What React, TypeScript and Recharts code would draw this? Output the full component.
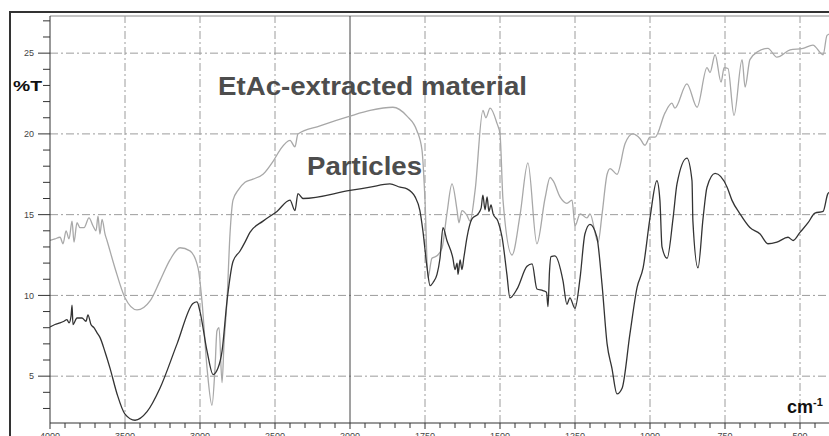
import React from "react";
import { Line, LineChart, ReferenceLine, XAxis, YAxis } from "recharts";

// EtAc-extracted material (grey trace), wavenumber in cm-1 and %T
const etacWavenumber = [
  4000, 3967, 3933, 3913, 3893, 3873, 3853, 3840, 3820, 3800, 3773, 3740, 3713, 3693, 3680, 3667,
  3653, 3633, 3620, 3567, 3500, 3420, 3333, 3267, 3200, 3133, 3067, 3013, 2987, 2953, 2920, 2900,
  2887, 2873, 2853, 2840, 2820, 2800, 2780, 2747, 2700, 2647, 2580, 2513, 2467, 2400, 2367, 2347,
  2200, 2000, 1933, 1857, 1810, 1777, 1760, 1750, 1740, 1727, 1710, 1693, 1677, 1660, 1643, 1637,
  1627, 1610, 1600, 1583, 1557, 1547, 1533, 1510, 1500, 1490, 1460, 1433, 1407, 1377, 1350, 1333,
  1323, 1300, 1277, 1260, 1250, 1233, 1210, 1200, 1173, 1160, 1143, 1133, 1110, 1083, 1057, 1033,
  1017, 1000, 983, 950, 927, 917, 877, 843, 810, 800, 783, 763, 753, 740, 720, 693,
  683, 667, 640, 607, 577, 533, 490, 457, 423, 410, 400,
];
const etacT = [
  13.4, 13.5, 13.6, 13.2, 14.0, 13.5, 14.6, 13.3, 14.5, 14.2, 14.2, 14.8, 14.3, 14.0, 14.9, 13.8,
  14.7, 13.8, 13.4, 11.7, 9.85, 9.1, 9.66, 10.9, 12.2, 12.95, 12.76, 11.7, 9.66, 5.5, 3.2, 5.5,
  7.8, 8.0, 4.6, 7.0, 9.66, 13.8, 15.9, 16.5, 17.0, 17.2, 17.5, 18.3, 19.0, 19.6, 19.2, 20.0,
  20.5, 21.1, 21.45, 21.65, 21.1, 20.2, 19.0, 15.9, 11.1, 12.3, 12.45, 12.95, 15.05, 16.9, 15.25, 14.5,
  15.25, 14.95, 14.6, 16.5, 21.45, 21.0, 21.6, 20.65, 20.0, 15.9, 12.5, 15.0, 18.2, 13.2, 16.0, 17.3,
  17.1, 16.1, 15.7, 15.9, 14.3, 15.05, 14.8, 15.05, 13.3, 15.0, 17.5, 17.85, 17.5, 19.4, 20.0, 19.7,
  19.3, 19.8, 19.8, 21.3, 21.9, 21.6, 23.1, 21.65, 24.1, 23.8, 24.9, 23.2, 24.1, 24.05, 21.15, 24.6,
  22.9, 24.6, 25.1, 25.3, 24.75, 25.2, 25.3, 25.5, 24.9, 26.1, 26.2,
];

// Particles (dark trace)
const partWavenumber = [
  4000, 3967, 3933, 3907, 3887, 3873, 3860, 3853, 3847, 3820, 3787, 3760, 3747, 3727, 3707, 3687,
  3667, 3633, 3600, 3553, 3500, 3433, 3353, 3267, 3153, 3047, 3020, 3000, 2953, 2913, 2880, 2853,
  2820, 2780, 2733, 2700, 2667, 2580, 2487, 2400, 2367, 2347, 2313, 2000, 1933, 1867, 1833, 1810,
  1783, 1767, 1757, 1743, 1733, 1723, 1710, 1700, 1690, 1677, 1657, 1650, 1643, 1640, 1633, 1627,
  1620, 1610, 1593, 1573, 1563, 1557, 1550, 1543, 1537, 1530, 1523, 1507, 1493, 1477, 1467, 1443,
  1410, 1393, 1377, 1357, 1345, 1340, 1335, 1330, 1317, 1290, 1277, 1267, 1250, 1233, 1217, 1200,
  1177, 1160, 1143, 1127, 1110, 1093, 1067, 1043, 1023, 1000, 977, 967, 960, 943, 923, 910,
  877, 860, 857, 840, 823, 810, 783, 743, 727, 700, 667, 633, 607, 577, 540, 523,
  500, 473, 450, 423, 407, 400,
];
const partT = [
  8.05, 8.2, 8.3, 8.4, 8.5, 8.3, 8.7, 9.4, 8.2, 8.6, 8.6, 8.4, 8.8, 8.2, 8.0, 7.7,
  7.4, 6.5, 5.5, 3.9, 2.65, 2.27, 2.8, 4.25, 7.0, 9.5, 9.6, 9.0, 6.55, 5.1, 5.5, 6.55,
  9.65, 12.1, 12.75, 13.3, 13.9, 14.6, 15.2, 15.9, 15.25, 16.3, 16.0, 16.5, 16.7, 16.9, 16.7, 16.6,
  16.1, 15.25, 14.0, 11.7, 10.6, 10.8, 11.3, 12.3, 14.2, 13.4, 12.3, 11.6, 12.0, 11.3, 12.2, 11.6,
  12.4, 13.6, 14.75, 15.05, 15.4, 16.2, 15.3, 16.1, 15.2, 15.6, 15.05, 14.6, 13.6, 11.3, 9.85, 10.4,
  11.8, 11.95, 10.4, 10.3, 10.2, 9.3, 11.5, 12.4, 12.45, 10.9, 9.45, 9.85, 9.2, 11.1, 13.8, 14.4,
  13.6, 10.7, 7.0, 5.5, 3.9, 4.25, 7.6, 10.5, 11.7, 14.8, 17.1, 15.9, 13.0, 12.3, 14.8, 16.9,
  18.5, 17.1, 14.6, 11.7, 14.8, 16.7, 17.55, 16.7, 15.9, 15.05, 14.2, 13.8, 13.2, 13.3, 13.6, 13.4,
  13.9, 14.5, 15.1, 15.2, 16.3, 16.4,
];

const majorWavenumbers = [4000, 3500, 3000, 2500, 2000, 1750, 1500, 1250, 1000, 750, 500];
const majorT = [5, 10, 15, 20, 25];
const minorT = [3, 4, 5, 6, 7, 8, 9, 10, 11, 12, 13, 14, 15, 16, 17, 18, 19, 20, 21, 22, 23, 24, 25, 26, 27];

// the spectrometer axis is compressed 2x above 2000 cm-1
const toAxis = (w: number) => (w >= 2000 ? (4000 - w) / 2 : 1000 + (2000 - w));
const fromAxis = (u: number) => (u <= 1000 ? 4000 - u * 2 : 2000 - (u - 1000));

const etacData = etacWavenumber.map((w, i) => ({ u: toAxis(w), t: etacT[i] }));
const partData = partWavenumber.map((w, i) => ({ u: toAxis(w), t: partT[i] }));

const xTicks: number[] = [];
for (let u = 0; u <= 2600; u += 50) xTicks.push(u);

const font = "'Liberation Sans', Arial, sans-serif";
const grid = "#9c9c9c";

const XTick = (props: any) => {
  const { x, y, payload } = props;
  const w = fromAxis(payload.value);
  const major = majorWavenumbers.includes(w);
  return (
    <g>
      <line x1={x} x2={x} y1={y} y2={y + (major ? 6 : 5)} stroke="#333" />
      {major && (
        <text x={x} y={y + 15.5} textAnchor="middle" fontSize={9} fontFamily={font} fill="#444">
          {w}
        </text>
      )}
    </g>
  );
};

const YTick = (props: any) => {
  const { x, y, payload } = props;
  const major = majorT.includes(payload.value);
  return (
    <g>
      <line x1={x - (major ? 12 : 7)} x2={x} y1={y} y2={y} stroke="#333" />
      {major && (
        <text x={x - 16} y={y} dy="0.35em" textAnchor="end" fontSize={9} fontFamily={font} fill="#444">
          {payload.value}
        </text>
      )}
    </g>
  );
};

export default function App() {
  return (
    <div style={{ position: "fixed", left: 0, top: 0, width: 829, height: 436, overflow: "hidden", background: "#fff" }}>
      <div
        style={{
          position: "absolute",
          left: 9,
          top: 11,
          width: 840,
          height: 440,
          borderTop: "2px solid #333",
          borderLeft: "2px solid #333",
        }}
      />
      <div style={{ position: "absolute", left: 0, top: 0 }}>
        <LineChart width={840} height={453} margin={{ top: 16, right: 10, bottom: 0, left: 0 }}>
          <XAxis
            dataKey="u"
            type="number"
            domain={[0, 2600]}
            ticks={xTicks}
            interval={0}
            tick={<XTick />}
            tickLine={false}
            tickSize={0}
            tickMargin={0}
            axisLine={{ stroke: "#333" }}
            height={30}
            allowDataOverflow
          />
          <YAxis
            type="number"
            domain={[2.1, 27.3]}
            ticks={minorT}
            interval={0}
            tick={<YTick />}
            tickLine={false}
            tickSize={0}
            tickMargin={0}
            axisLine={{ stroke: "#333" }}
            width={50}
            allowDataOverflow
          />
          <ReferenceLine y={27.3} stroke="#8a8a8a" />
          {majorT.map((t) => (
            <ReferenceLine key={"h" + t} y={t} stroke={grid} strokeDasharray="8 3 2 3" />
          ))}
          {majorWavenumbers
            .filter((w) => w !== 2000 && w !== 4000)
            .map((w) => (
              <ReferenceLine key={"v" + w} x={toAxis(w)} stroke={grid} strokeDasharray="8 3 2 3" />
            ))}
          <ReferenceLine x={toAxis(2000)} stroke="#444" />
          <Line
            data={etacData}
            dataKey="t"
            type="monotone"
            stroke="#a8a8a8"
            strokeWidth={1.3}
            dot={false}
            isAnimationActive={false}
          />
          <Line
            data={partData}
            dataKey="t"
            type="monotone"
            stroke="#333"
            strokeWidth={1.3}
            dot={false}
            isAnimationActive={false}
          />
        </LineChart>
      </div>
      <svg width={829} height={436} style={{ position: "absolute", left: 0, top: 0, pointerEvents: "none" }}>
        <text x={13} y={91} fontSize={14.5} fontWeight="bold" fontFamily={font} fill="#111" textLength={29} lengthAdjust="spacingAndGlyphs">
          %T
        </text>
        <text x={218} y={94.5} fontSize={25} fontWeight="bold" fontFamily={font} fill="#4d4d4d" textLength={309} lengthAdjust="spacingAndGlyphs">
          EtAc-extracted material
        </text>
        <text x={307} y={175} fontSize={25} fontWeight="bold" fontFamily={font} fill="#4d4d4d" textLength={115} lengthAdjust="spacingAndGlyphs">
          Particles
        </text>
        <text x={787} y={413} fontSize={18} fontWeight="bold" fontFamily={font} fill="#111">
          cm
          <tspan fontSize={11} dy={-7}>
            -1
          </tspan>
        </text>
      </svg>
    </div>
  );
}
